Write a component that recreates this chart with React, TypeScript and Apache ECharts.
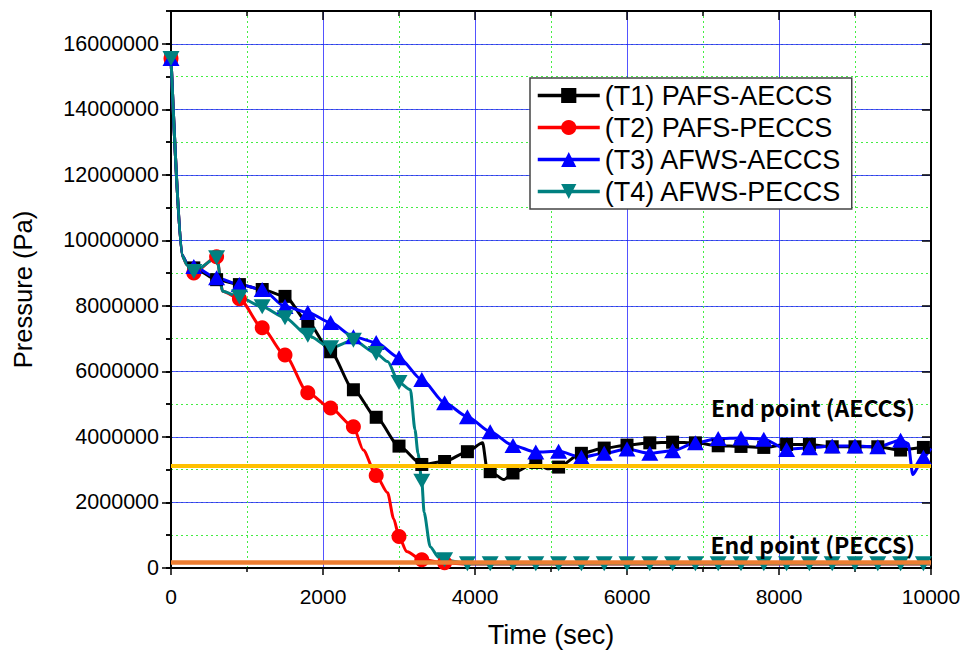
import { useEffect, useRef } from 'react';
import * as echarts from 'echarts';

const FONT = '"Liberation Sans", Arial, Helvetica, sans-serif';
const NOTE_FONT = '"Noto Sans CJK KR", "Noto Sans", sans-serif';

const SERIES_NAMES = ['(T1) PAFS-AECCS', '(T2) PAFS-PECCS', '(T3) AFWS-AECCS', '(T4) AFWS-PECCS'];
const SERIES_COLORS = ['#000000', '#ff0000', '#0000ff', '#008080'];

const X_MIN = 0;
const X_MAX = 10000;
const X_MAJOR = 2000;
const Y_MIN = 0;
const Y_MAX = 17000000;
const Y_MAJOR = 2000000;
const Y_MINOR = 1000000;
const MARKER_STEP = 300;
// last time at which a marker is visible for each series (T2's later markers sit hidden under T4)
const LAST_MARKER_TIME = [10000, 3600, 10000, 10000];

const END_AECCS = 3120000;
const END_PECCS = 170000;
const END_AECCS_LABEL = 'End point (AECCS)';
const END_PECCS_LABEL = 'End point (PECCS)';

// (T1) PAFS-AECCS
const T1_TIME = [0, 145, 210, 300, 600, 900, 1200, 1500, 1800, 2100, 2400, 2700, 3000, 3300, 3600, 3900, 4100, 4160, 4200, 4380, 4500, 4800, 4950, 5100, 5400, 5700, 6000, 6300, 6600, 6900, 7200, 7500, 7800, 8100, 8400, 8700, 9000, 9300, 9600, 9900, 10000];
const T1_PRESSURE = [15550000, 9550000, 9300000, 9160000, 8800000, 8650000, 8500000, 8290000, 7500000, 6600000, 5440000, 4600000, 3720000, 3160000, 3250000, 3550000, 3820000, 3000000, 2940000, 2700000, 2900000, 3220000, 3030000, 3080000, 3500000, 3660000, 3750000, 3820000, 3840000, 3820000, 3730000, 3710000, 3680000, 3770000, 3770000, 3700000, 3700000, 3700000, 3600000, 3680000, 3650000];

// (T2) PAFS-PECCS
const T2_TIME = [0, 145, 210, 300, 600, 680, 900, 1200, 1500, 1800, 2100, 2400, 2530, 2700, 2850, 2930, 3000, 3100, 3300, 3600, 3900, 4200, 4500, 4800, 5100, 5400, 5700, 6000, 6300, 6600, 6900, 7200, 7500, 7800, 8100, 8400, 8700, 9000, 9300, 9600, 9900, 10000];
const T2_PRESSURE = [15550000, 9550000, 9250000, 9000000, 9500000, 8450000, 8220000, 7330000, 6500000, 5350000, 4880000, 4310000, 3600000, 2820000, 2300000, 1500000, 960000, 500000, 250000, 160000, 120000, 120000, 120000, 120000, 120000, 120000, 120000, 120000, 120000, 120000, 120000, 120000, 120000, 120000, 120000, 120000, 120000, 120000, 120000, 120000, 120000, 120000];

// (T3) AFWS-AECCS
const T3_TIME = [0, 145, 210, 300, 600, 900, 1200, 1500, 1800, 2100, 2400, 2700, 3000, 3300, 3600, 3900, 4200, 4500, 4800, 5100, 5400, 5700, 6000, 6300, 6600, 6900, 7200, 7500, 7800, 8100, 8400, 8700, 9000, 9300, 9600, 9700, 9760, 9850, 9900, 10000];
const T3_PRESSURE = [15550000, 9550000, 9300000, 9200000, 8860000, 8650000, 8500000, 7980000, 7800000, 7490000, 7060000, 6880000, 6420000, 5750000, 5040000, 4620000, 4160000, 3740000, 3540000, 3560000, 3380000, 3500000, 3630000, 3500000, 3580000, 3820000, 3950000, 3970000, 3930000, 3620000, 3670000, 3720000, 3720000, 3700000, 3900000, 3800000, 2850000, 3150000, 3380000, 3650000];

// (T4) AFWS-PECCS
const T4_TIME = [0, 145, 210, 300, 600, 680, 900, 1200, 1500, 1800, 2100, 2400, 2700, 2850, 3000, 3150, 3210, 3250, 3300, 3330, 3410, 3520, 3600, 3900, 4200, 4500, 4800, 5100, 5400, 5700, 6000, 6300, 6600, 6900, 7200, 7500, 7800, 8100, 8400, 8700, 9000, 9300, 9600, 9900, 10000];
const T4_PRESSURE = [15550000, 9550000, 9250000, 9050000, 9470000, 8450000, 8270000, 7970000, 7640000, 7100000, 6720000, 6950000, 6550000, 6300000, 5660000, 5440000, 4220000, 3500000, 2650000, 1700000, 650000, 320000, 250000, 130000, 130000, 130000, 130000, 130000, 130000, 130000, 130000, 130000, 130000, 130000, 130000, 130000, 130000, 130000, 130000, 130000, 130000, 130000, 130000, 130000, 130000];

const TIMES = [T1_TIME, T2_TIME, T3_TIME, T4_TIME];
const PRESSURES = [T1_PRESSURE, T2_PRESSURE, T3_PRESSURE, T4_PRESSURE];
const SYMBOLS = ['rect', 'circle', 'triangle', 'path://M0,0L20,0L10,17Z'];
const SYMBOL_SIZES: any[] = [13, 15, [17, 15], [17, 15]];

function toData(times: number[], values: number[], lastMarker: number) {
  return times.map((t, i) =>
    t % MARKER_STEP === 0 && t <= lastMarker
      ? { value: [t, values[i]] }
      : { value: [t, values[i]], symbol: 'none' }
  );
}

export default function App() {
  const ref = useRef<HTMLDivElement>(null);

  useEffect(() => {
    if (!ref.current) return;
    const chart = echarts.init(ref.current, null, { renderer: 'svg' });

    const series: any[] = SERIES_NAMES.map((name, i) => ({
      name,
      type: 'line',
      xAxisIndex: 0,
      yAxisIndex: 1,
      data: toData(TIMES[i], PRESSURES[i], LAST_MARKER_TIME[i]),
      symbol: SYMBOLS[i],
      symbolSize: SYMBOL_SIZES[i],
      showAllSymbol: true,
      smooth: 0.25,
      smoothMonotone: 'x',
      lineStyle: { color: SERIES_COLORS[i], width: 3 },
      itemStyle: { color: SERIES_COLORS[i], opacity: 1 },
      emphasis: { disabled: true },
    }));

    const noteLabel = {
      show: true,
      position: 'insideEndTop',
      color: '#000',
      fontSize: 23,
      fontWeight: 'bold',
      fontFamily: NOTE_FONT,
    };

    series.push({
      name: 'end points',
      type: 'line',
      xAxisIndex: 0,
      yAxisIndex: 1,
      data: [],
      z: 5,
      markLine: {
        silent: true,
        symbol: 'none',
        animation: false,
        data: [
          {
            yAxis: END_AECCS,
            lineStyle: { color: '#ffc000', width: 4, type: 'solid' },
            label: { ...noteLabel, formatter: END_AECCS_LABEL, distance: [16, 47] },
          },
          {
            yAxis: END_PECCS,
            lineStyle: { color: '#ed7d31', width: 4.5, type: 'solid' },
            label: { ...noteLabel, formatter: END_PECCS_LABEL, distance: [16, 7] },
          },
        ],
      },
    });

    const black = { color: '#000', width: 2 };
    const tickStyle = { color: '#000', width: 1.5 };
    const majorGrid = { color: '#1a1aff', width: 1, opacity: 0.75 };
    const minorGrid = { color: '#44ee44', width: 1, type: [2, 3] };

    chart.setOption({
      animation: false,
      backgroundColor: '#ffffff',
      textStyle: { fontFamily: FONT },
      grid: { left: 171, right: 34, top: 11, bottom: 87, containLabel: false, outerBoundsMode: 'none' },
      legend: {
        data: SERIES_NAMES,
        orient: 'vertical',
        left: 530,
        top: 78,
        backgroundColor: '#ffffff',
        borderColor: '#444',
        borderWidth: 1.5,
        borderRadius: 0,
        padding: [4, 10, 4, 6],
        itemWidth: 62,
        itemHeight: 19,
        itemGap: 5,
        lineStyle: { width: 3.5 },
        textStyle: { fontSize: 27, color: '#000', fontFamily: FONT },
        selectedMode: false,
      },
      xAxis: [
        {
          type: 'value',
          position: 'bottom',
          min: X_MIN,
          max: X_MAX,
          interval: X_MAJOR,
          axisLine: { show: true, onZero: false, lineStyle: black },
          axisTick: { show: true, inside: false, length: 7, lineStyle: tickStyle },
          minorTick: { show: true, splitNumber: 2, length: 4, lineStyle: tickStyle },
          axisLabel: {
            fontSize: 21,
            color: '#000',
            margin: 18,
            fontFamily: FONT,
            formatter: (v: number) => String(v),
          },
          splitLine: { show: true, lineStyle: majorGrid },
          minorSplitLine: { show: true, lineStyle: minorGrid },
          name: 'Time (sec)',
          nameLocation: 'middle',
          nameGap: 53,
          nameTextStyle: { fontSize: 27, color: '#000', fontFamily: FONT },
        },
        {
          type: 'value',
          position: 'top',
          min: X_MIN,
          max: X_MAX,
          interval: X_MAJOR,
          axisLine: { show: true, onZero: false, lineStyle: black },
          axisTick: { show: true, inside: true, length: 9, lineStyle: tickStyle },
          minorTick: { show: true, splitNumber: 2, length: 5, lineStyle: tickStyle },
          axisLabel: { show: false },
          splitLine: { show: false },
        },
      ],
      yAxis: [
        {
          type: 'value',
          position: 'left',
          min: Y_MIN,
          max: Y_MAX,
          interval: Y_MINOR,
          axisLine: { show: false },
          axisTick: { show: true, inside: false, length: 5, lineStyle: tickStyle },
          axisLabel: { show: false },
          splitLine: { show: true, lineStyle: minorGrid },
        },
        {
          type: 'value',
          position: 'left',
          min: Y_MIN,
          max: Y_MAX,
          interval: Y_MAJOR,
          axisLine: { show: true, onZero: false, lineStyle: black },
          axisTick: { show: true, inside: false, length: 9, lineStyle: tickStyle },
          axisLabel: {
            fontSize: 21.5,
            color: '#000',
            margin: 12,
            fontFamily: FONT,
            showMaxLabel: false,
            formatter: (v: number) => (v % Y_MAJOR === 0 ? String(v) : ''),
          },
          splitLine: { show: true, lineStyle: majorGrid },
          name: 'Pressure (Pa)',
          nameLocation: 'middle',
          nameGap: 135,
          nameTextStyle: { fontSize: 25.5, color: '#000', fontFamily: FONT },
        },
        {
          type: 'value',
          position: 'right',
          min: Y_MIN,
          max: Y_MAX,
          interval: Y_MINOR,
          axisLine: { show: false },
          axisTick: { show: true, inside: true, length: 5, lineStyle: tickStyle },
          axisLabel: { show: false },
          splitLine: { show: false },
        },
        {
          type: 'value',
          position: 'right',
          min: Y_MIN,
          max: Y_MAX,
          interval: Y_MAJOR,
          axisLine: { show: true, onZero: false, lineStyle: black },
          axisTick: { show: true, inside: true, length: 9, lineStyle: tickStyle },
          axisLabel: { show: false },
          splitLine: { show: false },
        },
      ],
      series,
    });

    return () => chart.dispose();
  }, []);

  return (
    <div
      ref={ref}
      style={{ position: 'fixed', left: 0, top: 0, width: 965, height: 655, background: '#fff' }}
    />
  );
}
